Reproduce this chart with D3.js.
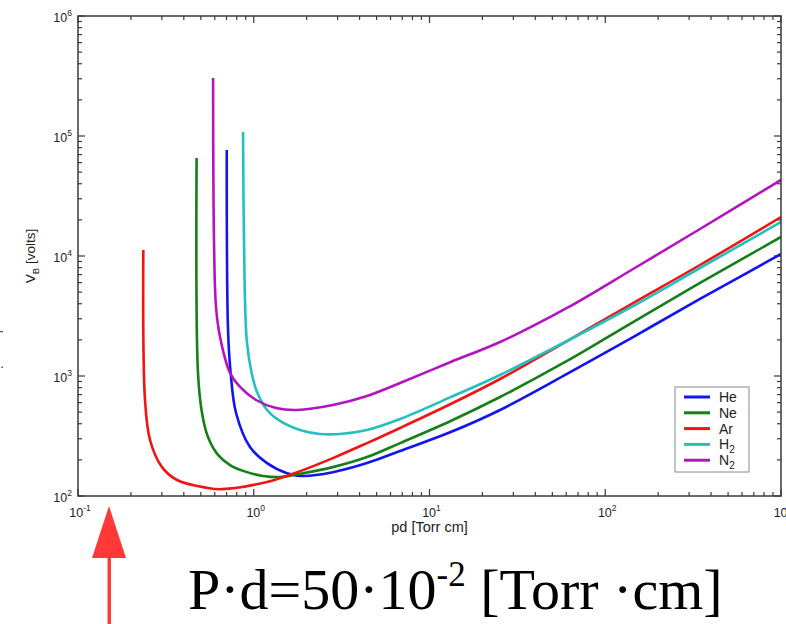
<!DOCTYPE html>
<html>
<head>
<meta charset="utf-8">
<script src="https://cdn.jsdelivr.net/npm/d3@7"></script>
<style>
  html, body { margin: 0; padding: 0; background: #fff; }
  svg { display: block; font-family: "Liberation Sans", Arial, sans-serif; }
</style>
</head>
<body>
<svg id="chart" width="786" height="624"></svg>
<script>
// Paschen curves, values: [pd (Torr cm), V_B (volts)]
const heData = [
  [0.702, 76400], [0.714, 2418], [0.739, 1059], [0.793, 492], [0.952, 256],
  [1.19, 188], [1.546, 155], [1.906, 147], [2.82, 158], [4.41, 188],
  [6.8, 237], [13.2, 341], [25.2, 521], [60.6, 1040], [144, 2113], [346, 4385], [1000, 10390]
];
const neData = [
  [0.473, 65600], [0.4817, 1059], [0.5077, 492], [0.549, 310], [0.626, 220],
  [0.733, 181], [0.869, 162], [1.129, 147], [1.41, 144], [1.83, 153],
  [2.82, 174], [4.41, 211], [6.8, 276], [13.2, 422], [25.2, 668], [60.6, 1334],
  [144, 2818], [346, 5957], [1000, 14400]
];
const arData = [
  [0.2353, 11220], [0.2406, 631], [0.2569, 293], [0.3006, 174], [0.366, 136],
  [0.542, 117], [0.659, 114], [1.19, 131], [1.67, 153], [2.82, 207],
  [4.41, 276], [6.8, 369], [13.2, 584], [25.2, 944], [60.6, 1957], [144, 4057],
  [346, 8414], [1000, 21100]
];
const h2Data = [
  [0.869, 108000], [0.88, 13600], [0.912, 1995], [0.973, 1059], [1.044, 735],
  [1.19, 521], [1.41, 422], [1.83, 355], [2.38, 329], [3.1, 329],
  [4.41, 355], [6.8, 438], [13.2, 666], [25.2, 1019], [60.6, 1957], [144, 3831],
  [346, 7943], [1000, 19200]
];
const n2Data = [
  [0.587, 304000], [0.594, 13600], [0.61, 3758], [0.643, 2113], [0.733, 1059],
  [0.835, 810], [1.03, 631], [1.339, 541], [1.762, 521], [2.82, 573],
  [4.41, 681], [6.8, 874], [13.2, 1308], [25.2, 1920], [60.6, 3690], [144, 7793],
  [346, 16790], [1000, 43000]
];

const seriesNames = ['He', 'Ne', 'Ar', 'H2', 'N2'];
const seriesData = [heData, neData, arData, h2Data, n2Data];
const seriesColors = ['#1414f0', '#13801a', '#f01414', '#22c0c0', '#b414c0'];

const xExponents = [-1, 0, 1, 2, 3];
const yExponents = [2, 3, 4, 5, 6];

const margin = { top: 16, right: 5, bottom: 128, left: 78 };
const W = 786, H = 624;
const plotW = W - margin.left - margin.right;
const plotH = H - margin.top - margin.bottom;

const svg = d3.select('#chart');

const x = d3.scaleLog().domain([0.1, 1000]).range([margin.left, margin.left + plotW]);
const y = d3.scaleLog().domain([100, 1e6]).range([margin.top + plotH, margin.top]);

function minorValues(lo, hi) {
  const out = [];
  for (let e = lo; e < hi; e++) {
    for (let m = 2; m <= 9; m++) out.push(m * Math.pow(10, e));
  }
  return out;
}
const xMajor = xExponents.map(e => Math.pow(10, e));
const yMajor = yExponents.map(e => Math.pow(10, e));
const xMinor = minorValues(-1, 3);
const yMinor = minorValues(2, 6);

const axisColor = '#3a3a3a';
const x0 = x.range()[0], x1 = x.range()[1];
const yb = y.range()[0], yt = y.range()[1];

// Ticks (inward, on all four sides)
const ticks = svg.append('g').attr('stroke', axisColor).attr('stroke-width', 1.2);
[[xMajor, 7], [xMinor, 4]].forEach(([vals, len]) => {
  vals.forEach(v => {
    ticks.append('line').attr('x1', x(v)).attr('x2', x(v)).attr('y1', yb).attr('y2', yb - len);
    ticks.append('line').attr('x1', x(v)).attr('x2', x(v)).attr('y1', yt).attr('y2', yt + len);
  });
});
[[yMajor, 7], [yMinor, 4]].forEach(([vals, len]) => {
  vals.forEach(v => {
    ticks.append('line').attr('y1', y(v)).attr('y2', y(v)).attr('x1', x0).attr('x2', x0 + len);
    ticks.append('line').attr('y1', y(v)).attr('y2', y(v)).attr('x1', x1).attr('x2', x1 - len);
  });
});

// Curves
svg.append('clipPath').attr('id', 'plotclip')
  .append('rect').attr('x', x0).attr('y', yt).attr('width', x1 - x0).attr('height', yb - yt);

const line = d3.line()
  .x(d => x(d[0]))
  .y(d => y(d[1]))
  .curve(d3.curveCatmullRom.alpha(0.5));

const curves = svg.append('g').attr('clip-path', 'url(#plotclip)');
seriesData.forEach((data, i) => {
  curves.append('path')
    .datum(data)
    .attr('fill', 'none')
    .attr('stroke', seriesColors[i])
    .attr('stroke-width', 2.6)
    .attr('stroke-linejoin', 'round')
    .attr('d', line);
});

// Frame
svg.append('rect')
  .attr('x', x0).attr('y', yt)
  .attr('width', x1 - x0).attr('height', yb - yt)
  .attr('fill', 'none').attr('stroke', axisColor).attr('stroke-width', 1.5);

// Tick labels
function powerLabel(g, e, px, py, anchor) {
  const t = g.append('text')
    .attr('x', px).attr('y', py)
    .attr('text-anchor', anchor)
    .attr('font-size', 12.5)
    .attr('fill', '#222');
  t.append('tspan').text('10');
  t.append('tspan').attr('dy', -6).attr('font-size', 8.5).text(e);
}
const labels = svg.append('g');
xExponents.forEach(e => powerLabel(labels, e, x(Math.pow(10, e)) + 2, yb + 21, 'middle'));
yExponents.forEach(e => powerLabel(labels, e, x0 - 6, y(Math.pow(10, e)) + 6, 'end'));

// Axis titles
svg.append('text')
  .attr('x', (x0 + x1) / 2).attr('y', yb + 36)
  .attr('text-anchor', 'middle').attr('font-size', 14.5).attr('fill', '#222')
  .text('pd [Torr cm]');

const yTitle = svg.append('text')
  .attr('transform', `translate(35,${(yt + yb) / 2}) rotate(-90)`)
  .attr('text-anchor', 'middle').attr('font-size', 13.5).attr('fill', '#222');
yTitle.append('tspan').text('V');
yTitle.append('tspan').attr('dy', 4).attr('font-size', 9.5).text('B');
yTitle.append('tspan').attr('dy', -4).text(' [volts]');

// Legend
const legend = svg.append('g').attr('transform', 'translate(675,387)');
legend.append('rect')
  .attr('width', 74).attr('height', 85)
  .attr('fill', '#fff').attr('stroke', '#8a8a8a').attr('stroke-width', 1);
seriesNames.forEach((name, i) => {
  const ly = 10 + i * 15.8;
  legend.append('line')
    .attr('x1', 9).attr('x2', 35).attr('y1', ly).attr('y2', ly)
    .attr('stroke', seriesColors[i]).attr('stroke-width', 3);
  const t = legend.append('text')
    .attr('x', 44).attr('y', ly + 5)
    .attr('font-size', 14).attr('fill', '#222');
  if (/\d/.test(name.slice(1))) {
    t.append('tspan').text(name[0]);
    t.append('tspan').attr('dy', 4).attr('font-size', 10).text(name.slice(1));
  } else {
    t.text(name);
  }
});

// Red arrow
const arrow = svg.append('g').attr('fill', '#ff3838').attr('stroke', 'none');
arrow.append('rect').attr('x', 107.5).attr('y', 550).attr('width', 3.5).attr('height', 74);
arrow.append('path').attr('d', 'M109,506 L126,558 L92,558 Z');

// stray marks at the left edge of the reference
svg.append('rect').attr('x', 0).attr('y', 331).attr('width', 3).attr('height', 1.2).attr('fill', '#555');
svg.append('rect').attr('x', 1.5).attr('y', 366.5).attr('width', 1.5).attr('height', 1.5).attr('fill', '#555');

// Annotation
const note = svg.append('text')
  .attr('x', 188).attr('y', 609)
  .attr('font-family', '"Liberation Serif", "Times New Roman", serif')
  .attr('font-size', 58).attr('fill', '#000');
note.append('tspan').text('P\u00b7d=50\u00b710');
note.append('tspan').attr('dy', -23).attr('font-size', 35).text('-2');
note.append('tspan').attr('dy', 23).text(' [Torr \u00b7cm]');
</script>
</body>
</html>
